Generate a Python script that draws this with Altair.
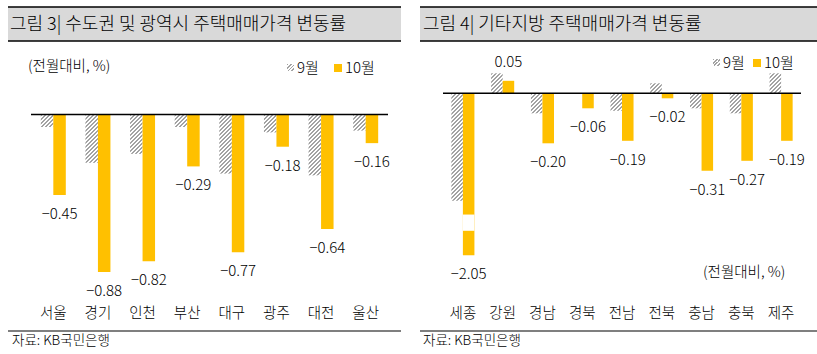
import altair as alt
import pandas as pd

FONT = "Noto Sans CJK KR"
FW = 300
ORANGE = "#FFC000"
HATCH = "#a3a3a3"

series_names = ["9월", "10월"]

left_title = "그림 3| 수도권 및 광역시 주택매매가격 변동률"
left_cats = ["서울", "경기", "인천", "부산", "대구", "광주", "대전", "울산"]
left_sep = [-0.07, -0.27, -0.22, -0.07, -0.33, -0.10, -0.34, -0.09]
left_oct = [-0.45, -0.88, -0.82, -0.29, -0.77, -0.18, -0.64, -0.16]

right_title = "그림 4| 기타지방 주택매매가격 변동률"
right_cats = ["세종", "강원", "경남", "경북", "전남", "전북", "충남", "충북", "제주"]
right_sep = [-0.43, 0.08, -0.08, 0.00, -0.07, 0.04, -0.06, -0.08, 0.08]
right_oct = [-2.05, 0.05, -0.20, -0.06, -0.19, -0.02, -0.31, -0.27, -0.19]

# axis break on the right panel (value range hidden by the break)
break_gap = [-0.485, -0.55]

unit_text = "(전월대비, %)"
source_text = "자료: KB국민은행"


def long_df(cats, sep, octv):
    rows = []
    for c, a, b in zip(cats, sep, octv):
        rows.append({"cat": c, "series": series_names[0], "value": a})
        rows.append({"cat": c, "series": series_names[1], "value": b})
    return pd.DataFrame(rows)


def stops_js(n_cycles, frac=0.5):
    parts = []
    for i in range(n_cycles):
        a = i / n_cycles
        b = (i + frac) / n_cycles
        c = (i + 1) / n_cycles
        parts.append(f"{{offset:{a:.5f},color:'{HATCH}'}}")
        parts.append(f"{{offset:{b:.5f},color:'{HATCH}'}}")
        parts.append(f"{{offset:{b:.5f},color:'#ffffff'}}")
        parts.append(f"{{offset:{c:.5f},color:'#ffffff'}}")
    return "[" + ",".join(parts) + "]"


def stops_list(n_cycles, frac=0.5):
    out = []
    for i in range(n_cycles):
        a = i / n_cycles
        b = (i + frac) / n_cycles
        c = (i + 1) / n_cycles
        out += [{"offset": a, "color": HATCH}, {"offset": b, "color": HATCH},
                {"offset": b, "color": "#ffffff"}, {"offset": c, "color": "#ffffff"}]
    return out


N_CYC = 32
PITCH = 4
S = N_CYC * PITCH
STOPS = stops_js(N_CYC)


def hatch_expr(w, slope):
    h = f"(abs(datum.value)*{slope})"
    den = f"({w}*{w}+{h}*{h})"
    return (f"{{gradient:'linear',x1:0,y1:0,x2:{S}*{w}/{den},"
            f"y2:{S}*{h}/{den},stops:{STOPS}}}")


def make_panel(cats, sep, octv, x_range, y_domain, y_range, slope, pad, extra=None):
    df = long_df(cats, sep, octv)
    step = (x_range[1] - x_range[0]) / len(cats)
    w = step * (1 - pad) / 2
    xenc = alt.X("cat:N", sort=cats, axis=None,
                 scale=alt.Scale(domain=cats, range=x_range,
                                 paddingInner=pad, paddingOuter=pad / 2))
    yscale = alt.Scale(domain=y_domain, range=y_range, zero=False, nice=False)
    yenc = alt.Y("value:Q", scale=yscale, axis=None)
    xo = alt.XOffset("series:N", sort=series_names,
                     scale=alt.Scale(domain=series_names, paddingInner=0, paddingOuter=0))
    base = alt.Chart(df)
    gray = base.transform_filter(alt.datum.series == series_names[0]).transform_calculate(
        grad=hatch_expr(w, slope)
    ).mark_bar().encode(
        x=xenc, xOffset=xo, y=yenc, y2=alt.datum(0),
        fill=alt.Fill("grad:N", scale=None),
    )
    orange = base.transform_filter(alt.datum.series == series_names[1]).mark_bar(
        color=ORANGE).encode(x=xenc, xOffset=xo, y=yenc, y2=alt.datum(0))
    layers = [gray, orange]
    if extra is not None:
        gdf = pd.DataFrame({"cat": [cats[0]], "series": [series_names[1]],
                            "lo": [extra[0]], "hi": [extra[1]]})
        gap = alt.Chart(gdf).mark_bar(color="white").encode(
            x=xenc, xOffset=xo,
            y=alt.Y("lo:Q", scale=yscale, axis=None), y2="hi:Q")
        layers.append(gap)
    neg = base.transform_filter(
        f"datum.series=='{series_names[1]}' && datum.value<0").mark_text(
        dy=19, fontSize=15, font=FONT, fontWeight=FW, baseline="middle", color="#000").encode(
        x=xenc, xOffset=xo, y=yenc, text=alt.Text("value:Q", format=".2f"))
    pos = base.transform_filter(
        f"datum.series=='{series_names[1]}' && datum.value>=0").mark_text(
        dy=-19, fontSize=15, font=FONT, fontWeight=FW, baseline="middle", color="#000").encode(
        x=xenc, xOffset=xo, y=yenc, text=alt.Text("value:Q", format=".2f"))
    catlbl = alt.Chart(pd.DataFrame({"cat": cats})).mark_text(
        fontSize=14.5, font=FONT, fontWeight=FW, baseline="middle", color="#000").encode(
        x=xenc, y=alt.value(314), text="cat:N")
    zero = alt.Chart(pd.DataFrame({"z": [0]})).mark_rule(
        color="black", strokeWidth=1.5).encode(
        y=alt.Y("z:Q", scale=yscale, axis=None),
        x=alt.value(x_range[0]), x2=alt.value(x_range[1]))
    layers += [neg, pos, catlbl, zero]
    return alt.layer(*layers)


left = make_panel(left_cats, left_sep, left_oct, [31, 388], [-1.0, 0.2],
                  [114.5 + 179 * 1.0, 114.5 - 179 * 0.2], 179, 0.44)
right = make_panel(right_cats, right_sep, right_oct, [443, 801],
                   [-2.05, break_gap[1], 0.2],
                   [255.3, 93.3 + 250 * 0.55, 93.3 - 250 * 0.2], 250, 0.42,
                   extra=break_gap)

one = pd.DataFrame({"k": [0]})


def rect(x, x2, y, y2, fill):
    return alt.Chart(one).mark_rect(fill=fill).encode(
        x=alt.value(x), x2=alt.value(x2), y=alt.value(y), y2=alt.value(y2))


def hline(x, x2, y, w=1.5):
    return alt.Chart(one).mark_rule(color="black", strokeWidth=w).encode(
        x=alt.value(x), x2=alt.value(x2), y=alt.value(y))


def label(txt, x, y, size, align="left"):
    return alt.Chart(one).mark_text(
        text=txt, fontSize=size, font=FONT, fontWeight=FW, align=align,
        baseline="middle", color="#000").encode(x=alt.value(x), y=alt.value(y))


hatch_sq = {"gradient": "linear", "x1": 0, "y1": 0, "x2": 1, "y2": 1,
            "stops": stops_list(4)}

deco = [
    rect(8, 401, 7, 41, "#d9d9d9"), hline(8, 401, 7), hline(8, 401, 41),
    rect(420, 817, 7, 41, "#d9d9d9"), hline(420, 817, 7), hline(420, 817, 41),
    label(left_title, 10, 25, 18), label(right_title, 423, 25, 18),
    label(unit_text, 28, 67, 14.5), label(unit_text, 703, 273, 14.5),
    rect(287, 294, 64, 71, hatch_sq), label(series_names[0], 297, 68, 15),
    rect(334, 342, 64, 72, ORANGE), label(series_names[1], 345, 68, 15),
    rect(713, 720, 59, 66, hatch_sq), label(series_names[0], 723, 63, 15),
    rect(753, 761, 59, 67, ORANGE), label(series_names[1], 764, 63, 15),
    hline(8, 401, 331, 1.2), hline(420, 817, 331, 1.2),
    label(source_text, 12, 341, 13.5), label(source_text, 423, 341, 13.5),
]

chart = alt.layer(left, right, *deco).resolve_scale(
    x="independent", y="independent", xOffset="independent"
).properties(
    width=817, height=354, padding=0,
    autosize=alt.AutoSizeParams(type="none"),
    background="white",
).configure_view(stroke=None)

chart.save("out.html", embed_options={"renderer": "svg", "actions": False})
